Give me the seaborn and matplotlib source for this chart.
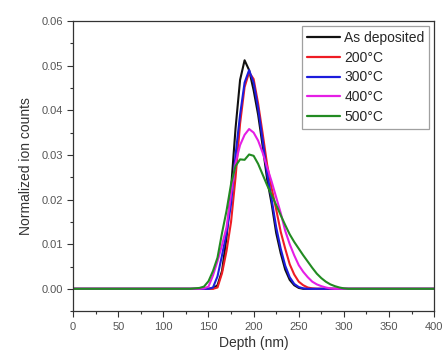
import pandas as pd
import matplotlib
matplotlib.use("Agg")
import matplotlib.pyplot as plt
import seaborn as sns
from matplotlib.ticker import MultipleLocator

# ==============================================
# DATOS
# ==============================================
depth = [0, 130, 135, 140, 145, 150, 155, 160, 165, 170, 175, 180, 185, 190,
         195, 200, 205, 210, 215, 220, 225, 230, 235, 240, 245, 250, 255,
         260, 265, 270, 275, 280, 285, 290, 295, 300, 305, 310, 400]

as_deposited = [0, 0, 0, 0, 0, 0, 0.0001, 0.0008, 0.0040, 0.0115, 0.0225,
                0.0360, 0.0468, 0.0512, 0.0490, 0.0445, 0.0390, 0.0320,
                0.0245, 0.0190, 0.0125, 0.0080, 0.0043, 0.0020, 0.0008,
                0.0002, 0, 0, 0, 0, 0, 0, 0, 0, 0, 0, 0, 0, 0]

t200 = [0, 0, 0, 0, 0, 0, 0, 0.0003, 0.0035, 0.0085, 0.0150, 0.0250, 0.0370,
        0.0452, 0.0485, 0.0470, 0.0415, 0.0348, 0.0278, 0.0225, 0.0178,
        0.0128, 0.0090, 0.0055, 0.0032, 0.0016, 0.0008, 0.0003, 0.0001, 0,
        0, 0, 0, 0, 0, 0, 0, 0, 0]

t300 = [0, 0, 0, 0, 0, 0, 0.0003, 0.0028, 0.0075, 0.0125, 0.0190, 0.0300,
        0.0390, 0.0462, 0.0490, 0.0462, 0.0405, 0.0333, 0.0258, 0.0200,
        0.0138, 0.0090, 0.0052, 0.0026, 0.0011, 0.0004, 0.0001, 0, 0, 0, 0,
        0, 0, 0, 0, 0, 0, 0, 0]

t400 = [0, 0, 0, 0, 0.0001, 0.0005, 0.0030, 0.0062, 0.0098, 0.0138, 0.0212,
        0.0282, 0.0322, 0.0345, 0.0358, 0.0350, 0.0332, 0.0305, 0.0272,
        0.0240, 0.0205, 0.0170, 0.0130, 0.0100, 0.0075, 0.0053, 0.0038,
        0.0026, 0.0016, 0.0010, 0.0006, 0.0003, 0.0001, 0, 0, 0, 0, 0, 0]

t500 = [0, 0, 0.0001, 0.0002, 0.0005, 0.0017, 0.0040, 0.0070, 0.0125, 0.0175,
        0.0235, 0.0275, 0.0290, 0.0289, 0.0301, 0.0298, 0.0280, 0.0256,
        0.0232, 0.0210, 0.0188, 0.0165, 0.0143, 0.0122, 0.0105, 0.0090,
        0.0075, 0.0061, 0.0047, 0.0034, 0.0024, 0.0016, 0.0010, 0.0006,
        0.0003, 0.0001, 0, 0, 0]

etiquetas = ["As deposited", "200\u00b0C", "300\u00b0C", "400\u00b0C", "500\u00b0C"]
colores = ["#111111", "#ee1c24", "#1c1cdc", "#e51ee5", "#228b22"]

# tabla larga para seaborn
series = [as_deposited, t200, t300, t400, t500]
df = pd.concat([pd.DataFrame({"depth": depth, "counts": s, "muestra": e})
                for s, e in zip(series, etiquetas)], ignore_index=True)

# ==============================================
# ESTILO
# ==============================================
sns.set_style("ticks")
plt.rcParams["font.family"] = ["Liberation Sans", "DejaVu Sans"]

fig = plt.figure(figsize=(4.43, 3.56), dpi=100)
ax = fig.add_axes([0.165, 0.126, 0.815, 0.815])

sns.lineplot(data=df, x="depth", y="counts", hue="muestra",
             palette=dict(zip(etiquetas, colores)), hue_order=etiquetas,
             linewidth=1.5, ax=ax, sort=False)

ax.set_xlim(0, 400)
ax.set_ylim(-0.005, 0.06)
ax.xaxis.set_major_locator(MultipleLocator(50))
ax.xaxis.set_minor_locator(MultipleLocator(25))
ax.yaxis.set_major_locator(MultipleLocator(0.01))
ax.yaxis.set_minor_locator(MultipleLocator(0.005))
ax.yaxis.set_major_formatter(matplotlib.ticker.FormatStrFormatter("%.2f"))

ax.tick_params(which="major", direction="out", length=4, width=0.8,
               labelsize=8, labelcolor="#555555", color="#333333")
ax.tick_params(which="minor", direction="out", length=2.5, width=0.8,
               color="#333333")
for sp in ax.spines.values():
    sp.set_visible(True)
    sp.set_color("#333333")
    sp.set_linewidth(0.9)

ax.set_xlabel("Depth (nm)", fontsize=10, color="#333333", labelpad=3)
ax.set_ylabel("Normalized ion counts", fontsize=10, color="#333333", labelpad=6)

leg = ax.legend(loc="upper right", fontsize=10, frameon=True, fancybox=False,
                handlelength=2.4, handletextpad=0.3, labelspacing=0.42,
                borderpad=0.35, borderaxespad=0.35, title=None)
leg.get_frame().set_edgecolor("#888888")
leg.get_frame().set_linewidth(0.9)
for h in leg.get_lines():
    h.set_linewidth(1.6)

fig.savefig("out.png", dpi=100)
